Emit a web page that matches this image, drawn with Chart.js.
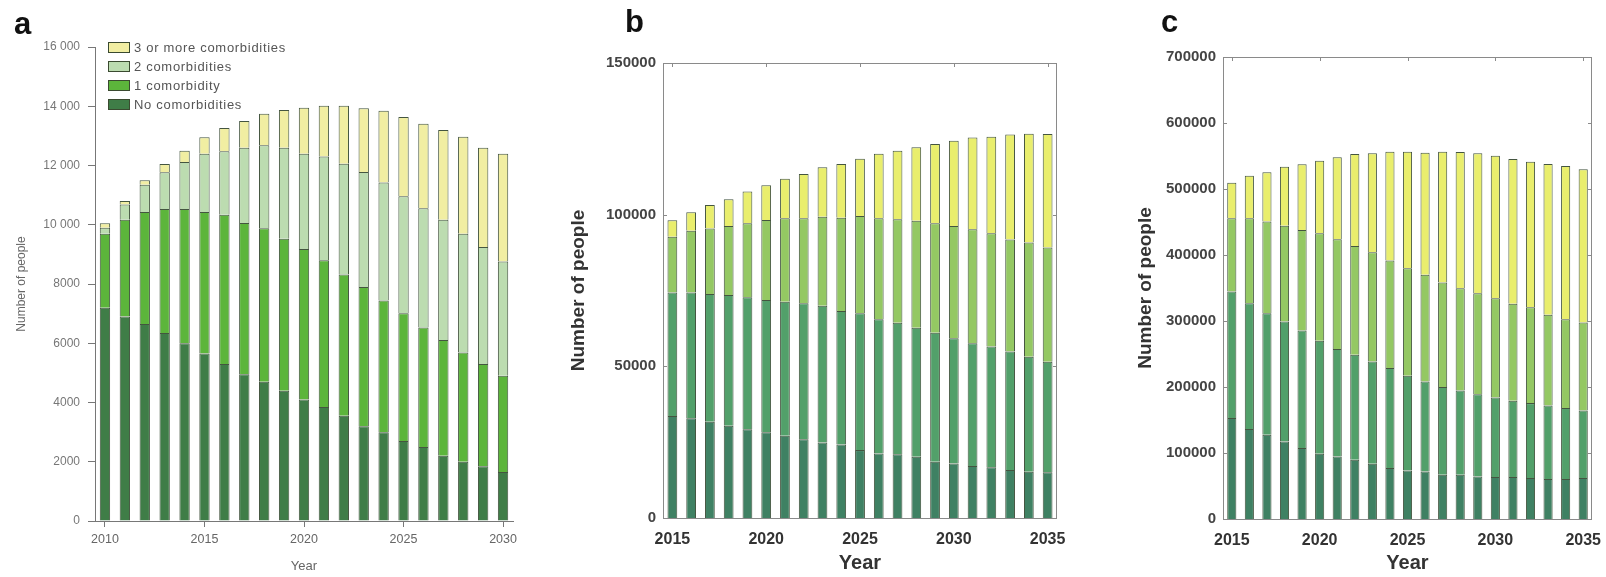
<!DOCTYPE html>
<html>
<head>
<meta charset="utf-8">
<script src="https://cdn.jsdelivr.net/npm/chart.js@4.4.1/dist/chart.umd.min.js"></script>
<style>
  body { margin: 0; background: #fff; width: 1606px; height: 577px; position: relative; overflow: hidden; font-family: "Liberation Sans", Arial, sans-serif; }
  canvas { position: absolute; top: 0; }
  .letter { position: absolute; font-weight: bold; font-size: 31px; color: #111; line-height: 1; }
  .legend { position: absolute; left: 108px; top: 38px; font-size: 13px; letter-spacing: 0.7px; color: #555; }
  .legend div { height: 19px; display: flex; align-items: center; }
  .legend span.box { display: inline-block; width: 22px; height: 11px; border: 1px solid #3a4a30; margin-right: 4px; box-sizing: border-box; }
</style>
</head>
<body>
<canvas id="chartA" width="540" height="577" style="left:0px"></canvas>
<canvas id="chartB" width="530" height="577" style="left:540px"></canvas>
<canvas id="chartC" width="526" height="577" style="left:1080px"></canvas>

<div class="letter" style="left:14px;top:8px">a</div>
<div class="letter" style="left:625px;top:6px">b</div>
<div class="letter" style="left:1161px;top:6px">c</div>

<div class="legend" id="legendA"></div>

<script>
// ---- panel a ----
const yearsA = ["2010","2011","2012","2013","2014","2015","2016","2017","2018","2019","2020",
                "2021","2022","2023","2024","2025","2026","2027","2028","2029","2030"];
const noneA  = [7200,6900,6650,6350,6000,5650,5300,4950,4700,4400,4100,3850,3550,3200,3000,2700,2500,2200,2000,1850,1650];
const oneA   = [2500,3270,3780,4180,4530,4780,5040,5110,5180,5130,5080,4950,4770,4700,4440,4310,4030,3910,3690,3450,3250];
const twoA   = [200,510,920,1240,1590,1970,2140,2540,2800,3070,3220,3500,3740,3880,3990,3950,4030,4060,4010,3950,3860];
const threeA = [150,120,150,280,380,550,790,900,1070,1270,1550,1720,1960,2150,2420,2680,2850,3030,3270,3350,3640];

// ---- panel b ----
const yearsBC = ["2015","2016","2017","2018","2019","2020","2021","2022","2023","2024","2025",
                 "2026","2027","2028","2029","2030","2031","2032","2033","2034","2035"];
const noneB  = [33600,32900,31750,30450,29250,28250,27150,25950,24850,24200,22400,21300,21000,20200,18550,18000,17150,16700,15850,15250,15050];
const oneB   = [40700,41400,42100,43050,43550,43650,44150,44850,45150,44050,45100,44200,43400,42550,42550,41250,40450,39800,39000,37950,36500];
const twoB   = [18450,20400,21550,22800,24350,26350,27500,28000,29300,30750,32100,33300,34100,35250,36050,37050,37600,37350,37000,37600,37600];
const threeB = [5450,6100,7800,8800,10450,11450,13000,14600,16300,17700,18800,21300,22600,24200,26150,28100,30200,31850,34550,35900,37450];

// ---- panel c ----
const noneC  = [153000,136300,127700,117500,107500,98900,94800,89800,83700,77200,73600,72100,67100,67100,64500,63600,63600,62100,60600,60600,62100];
const oneC   = [191600,190700,184200,181700,178100,171100,162600,159000,154900,151400,143400,136300,132800,127600,124700,120600,115600,113500,111500,107500,102400];
const twoC   = [111100,128700,138700,145300,152400,163000,166600,165000,165700,162900,163000,161600,158400,155000,153000,150400,146800,145400,137200,134700,133200];
const threeC = [53900,64500,74700,89300,99400,109900,124000,139200,149800,165000,176500,185000,198200,206300,211900,215900,219500,220400,228700,232200,232300];

const groupNames = ["No comorbidities", "1 comorbidity", "2 comorbidities", "3 or more comorbidities"];
const coloursA = ["#3f7d47", "#5cb53b", "#bcdcb0", "#f1eea2"];
const coloursBC = ["#3f8163", "#52a06a", "#94c863", "#e9ee6d"];

const FONT = '"Liberation Sans", Arial, sans-serif';

// legend for panel a (top entry first)
const legendA = document.getElementById("legendA");
for (let i = 3; i >= 0; i--) {
    const row = document.createElement("div");
    row.innerHTML = '<span class="box" style="background:' + coloursA[i] + '"></span>' + groupNames[i];
    legendA.appendChild(row);
}

function makeSets(series, colours) {
    return series.map((d, i) => ({
        label: groupNames[i],
        data: d,
        backgroundColor: colours[i],
        borderColor: "rgba(35,55,30,0.85)",
        borderWidth: 1,
        categoryPercentage: 1,
        barPercentage: 0.52
    }));
}

function everyFifth(value) {
    const lab = this.getLabelForValue(value);
    return Number(lab) % 5 === 0 ? lab : "";
}

// fixed scale sizes, no extra room for overflowing labels
function fixX(h) {
    return s => { s.height = h; s.paddingLeft = 0; s.paddingRight = 0; };
}
function fixY(w) {
    return s => { s.width = w; s.paddingTop = 0; s.paddingBottom = 0; };
}

// box frame with inward ticks for panels b and c
const framePlugin = {
    id: "frame",
    afterDatasetsDraw(chart) {
        const {ctx, chartArea: a, scales} = chart;
        ctx.save();
        ctx.strokeStyle = "#8a8a8a";
        ctx.lineWidth = 1;
        ctx.strokeRect(Math.round(a.left) + 0.5, Math.round(a.top) + 0.5,
                       Math.round(a.right - a.left) - 1, Math.round(a.bottom - a.top));
        ctx.beginPath();
        scales.x.ticks.forEach((t, i) => {
            if (Number(chart.data.labels[i]) % 5 !== 0) return;
            const x = Math.round(scales.x.getPixelForTick(i)) + 0.5;
            ctx.moveTo(x, a.top);
            ctx.lineTo(x, a.top + 4);
        });
        scales.y.ticks.forEach((t, i) => {
            const y = Math.round(scales.y.getPixelForTick(i)) + 0.5;
            ctx.moveTo(a.left, y);
            ctx.lineTo(a.left + 4, y);
            ctx.moveTo(a.right, y);
            ctx.lineTo(a.right - 4, y);
        });
        ctx.stroke();
        ctx.restore();
    }
};

// panel a
new Chart(document.getElementById("chartA"), {
    type: "bar",
    data: { labels: yearsA, datasets: makeSets([noneA, oneA, twoA, threeA], coloursA) },
    options: {
        responsive: false,
        animation: false,
        devicePixelRatio: 1,
        layout: { padding: { left: 0, right: 27, top: 47, bottom: 0 } },
        plugins: { legend: { display: false }, tooltip: { enabled: false } },
        scales: {
            x: {
                stacked: true,
                afterFit: fixX(56),
                grid: {
                    display: true, drawOnChartArea: false, offset: false, tickLength: 6,
                    color: c => (Number(yearsA[c.index]) % 5 === 0 ? "#777" : "rgba(0,0,0,0)")
                },
                border: { display: true, color: "#777" },
                ticks: { autoSkip: false, maxRotation: 0, padding: 5, color: "#666",
                         font: { family: FONT, size: 12.5 }, callback: everyFifth },
                title: { display: true, text: "Year", color: "#666",
                         font: { family: FONT, size: 13 }, padding: { top: 0, bottom: 3 } }
            },
            y: {
                stacked: true,
                min: 0, max: 16000,
                afterFit: fixY(95),
                grid: { display: true, drawOnChartArea: false, tickLength: 7, color: "#777" },
                border: { display: true, color: "#777" },
                ticks: { stepSize: 2000, padding: 8, color: "#777",
                         font: { family: FONT, size: 12 },
                         callback: v => (v >= 10000 ? Math.floor(v / 1000) + " 000" : String(v)) },
                title: { display: true, text: "Number of people", color: "#666",
                         font: { family: FONT, size: 12 }, padding: { top: 14, bottom: 0 } }
            }
        }
    }
});

function boxedOptions(maxVal, step, yWidth, xHeight, pad, titlePadTop) {
    return {
        responsive: false,
        animation: false,
        devicePixelRatio: 1,
        layout: { padding: pad },
        plugins: { legend: { display: false }, tooltip: { enabled: false } },
        scales: {
            x: {
                stacked: true,
                afterFit: fixX(xHeight),
                grid: { display: false, drawTicks: false },
                border: { display: false },
                ticks: { autoSkip: false, maxRotation: 0, padding: 12, color: "#333",
                         font: { family: FONT, size: 16, weight: "bold" }, callback: everyFifth },
                title: { display: true, text: "Year", color: "#333",
                         font: { family: FONT, size: 20, weight: "bold" }, padding: { top: 0, bottom: 2 } }
            },
            y: {
                stacked: true,
                min: 0, max: maxVal,
                afterFit: fixY(yWidth),
                grid: { display: false, drawTicks: false },
                border: { display: false },
                ticks: { stepSize: step, padding: 7, color: "#444",
                         font: { family: FONT, size: 15, weight: "bold" }, callback: v => String(v) },
                title: { display: true, text: "Number of people", color: "#333",
                         font: { family: FONT, size: 19, weight: "bold" }, padding: { top: titlePadTop, bottom: 0 } }
            }
        }
    };
}

// panel b
new Chart(document.getElementById("chartB"), {
    type: "bar",
    data: { labels: yearsBC, datasets: makeSets([noneB, oneB, twoB, threeB], coloursBC) },
    options: boxedOptions(150000, 50000, 123, 59, { left: 0, right: 13, top: 63, bottom: 0 }, 27),
    plugins: [framePlugin]
});

// panel c
new Chart(document.getElementById("chartC"), {
    type: "bar",
    data: { labels: yearsBC, datasets: makeSets([noneC, oneC, twoC, threeC], coloursBC) },
    options: boxedOptions(700000, 100000, 143, 58, { left: 0, right: 14, top: 57, bottom: 0 }, 54),
    plugins: [framePlugin]
});
</script>
</body>
</html>
